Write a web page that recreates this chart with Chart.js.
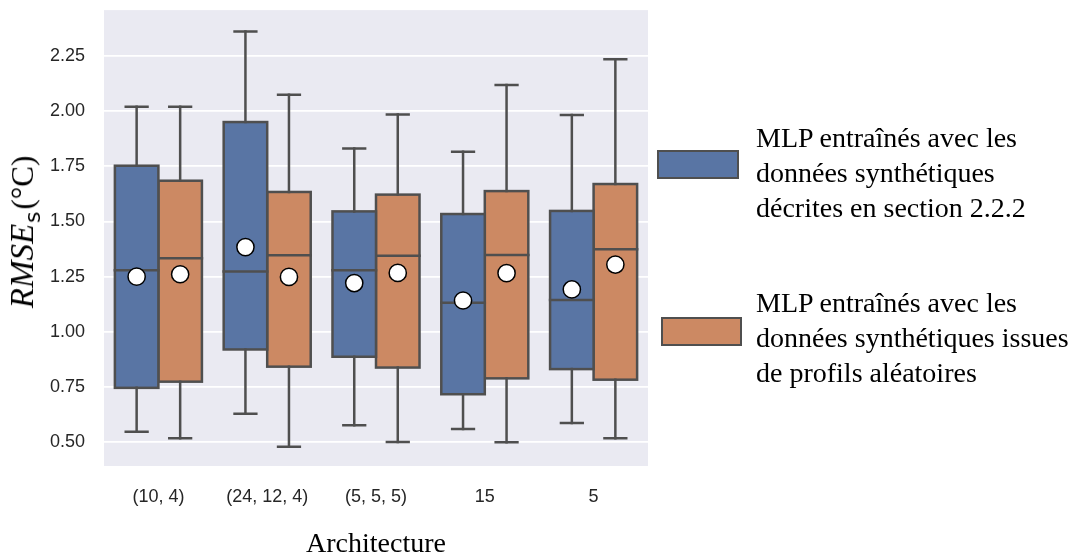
<!DOCTYPE html>
<html>
<head>
<meta charset="utf-8">
<script src="https://cdn.jsdelivr.net/npm/chart.js@4.4.1/dist/chart.umd.min.js"></script>
<style>
html,body{margin:0;padding:0;background:#fff;}
#wrap{position:relative;width:1082px;height:555px;overflow:hidden;background:#fff;}
#c{position:absolute;left:0;top:0;}
.leg{position:absolute;font-family:"Liberation Serif","Times New Roman",serif;font-size:28px;line-height:35px;color:#000;white-space:nowrap;}
.sw{position:absolute;box-sizing:border-box;border:2.5px solid #4f4f4f;}
#ytitle{position:absolute;left:24px;top:232px;transform:translate(-50%,-50%) rotate(-90deg);white-space:nowrap;font-family:"Liberation Serif","Times New Roman",serif;font-size:31px;line-height:32px;color:#000;}
</style>
</head>
<body>
<div id="wrap">
<canvas id="c" width="1082" height="555"></canvas>
<div id="ytitle"><i style="font-size:33px">RMSE</i><span style="font-family:'DejaVu Sans',sans-serif;font-size:22px;position:relative;top:7px;margin:0 2px 0 1px">s</span>(°C)</div>
<div class="sw" style="left:657px;top:150px;width:82px;height:29px;background:#5975a4"></div>
<div class="leg" style="left:756px;top:120px">MLP entraînés avec les<br>données synthétiques<br>décrites en section 2.2.2</div>
<div class="sw" style="left:661px;top:317px;width:81px;height:29px;background:#cc8963"></div>
<div class="leg" style="left:756px;top:285px">MLP entraînés avec les<br>données synthétiques issues<br>de profils aléatoires</div>
</div>
<script>
// ---------- data ----------
const categories = ['(10, 4)', '(24, 12, 4)', '(5, 5, 5)', '15', '5'];
const seriesNames = [
  'MLP entraînés avec les données synthétiques décrites en section 2.2.2',
  'MLP entraînés avec les données synthétiques issues de profils aléatoires'
];
// Series A (blue)
const whiskerLowA  = [0.547, 0.629, 0.577, 0.559, 0.587];
const q1A          = [0.746, 0.920, 0.887, 0.717, 0.831];
const medianA      = [1.279, 1.273, 1.279, 1.132, 1.144];
const q3A          = [1.753, 1.951, 1.546, 1.534, 1.548];
const whiskerHighA = [2.020, 2.362, 1.831, 1.816, 1.983];
const meanA        = [1.250, 1.384, 1.221, 1.142, 1.192];
// Series B (orange)
const whiskerLowB  = [0.517, 0.479, 0.500, 0.499, 0.518];
const q1B          = [0.774, 0.842, 0.838, 0.789, 0.783];
const medianB      = [1.333, 1.347, 1.345, 1.348, 1.374];
const q3B          = [1.685, 1.634, 1.622, 1.638, 1.670];
const whiskerHighB = [2.020, 2.075, 1.985, 2.119, 2.236];
const meanB        = [1.261, 1.249, 1.267, 1.266, 1.305];
// y tick values
const yTickValues = [0.50, 0.75, 1.00, 1.25, 1.50, 1.75, 2.00, 2.25];

// ---------- styles ----------
const LINE = '#4f4f4f';
const BLUE = '#5975a4';
const ORANGE = '#cc8963';
const GROUP_OFFSET = 0.2;   // half of a box width in category units
const CAP_HALF = 0.1;

const boxPlugin = {
  id: 'boxes',
  beforeDraw(chart) {
    const {ctx, chartArea: a} = chart;
    ctx.save();
    ctx.fillStyle = '#eaeaf2';
    ctx.fillRect(a.left, a.top, a.right - a.left, a.bottom - a.top);
    ctx.restore();
  },
  afterDatasetDraw(chart, args) {
    const ds = chart.data.datasets[args.index];
    if (!ds.stats) return;
    const st = ds.stats;
    const ys = chart.scales.y, xs = chart.scales.x2;
    const ctx = chart.ctx;
    ctx.save();
    ctx.strokeStyle = LINE;
    ctx.lineWidth = 2.5;
    ctx.lineCap = 'square';
    ctx.lineJoin = 'miter';
    args.meta.data.forEach((bar, i) => {
      const p = bar.getProps(['x', 'width'], true);
      const cx = p.x, hw = p.width / 2;
      const yq1 = ys.getPixelForValue(st.q1[i]);
      const yq3 = ys.getPixelForValue(st.q3[i]);
      const ymed = ys.getPixelForValue(st.med[i]);
      const ylo = ys.getPixelForValue(st.lo[i]);
      const yhi = ys.getPixelForValue(st.hi[i]);
      const pos = i + st.off;
      const cl = xs.getPixelForValue(pos - CAP_HALF), cr = xs.getPixelForValue(pos + CAP_HALF);
      // whiskers
      ctx.beginPath();
      ctx.moveTo(cx, yq3); ctx.lineTo(cx, yhi);
      ctx.moveTo(cx, yq1); ctx.lineTo(cx, ylo);
      ctx.stroke();
      // caps
      ctx.beginPath();
      ctx.moveTo(cl, yhi); ctx.lineTo(cr, yhi);
      ctx.moveTo(cl, ylo); ctx.lineTo(cr, ylo);
      ctx.stroke();
      // box outline
      ctx.strokeRect(cx - hw, yq3, p.width, yq1 - yq3);
      // median
      ctx.beginPath();
      ctx.moveTo(cx - hw, ymed); ctx.lineTo(cx + hw, ymed);
      ctx.stroke();
    });
    ctx.restore();
  }
};

// boxes are floating bars placed on the numeric companion axis x2 (category i -> value i)
const boxA = categories.map((_, i) => ({x: i - GROUP_OFFSET, y: [q1A[i], q3A[i]]}));
const boxB = categories.map((_, i) => ({x: i + GROUP_OFFSET, y: [q1B[i], q3B[i]]}));
const meanPtsA = categories.map((_, i) => ({x: i - GROUP_OFFSET, y: meanA[i]}));
const meanPtsB = categories.map((_, i) => ({x: i + GROUP_OFFSET, y: meanB[i]}));

const boxStyle = {
  type: 'bar', xAxisID: 'x2', yAxisID: 'y', order: 1, grouped: false,
  borderWidth: 0, barPercentage: 1.0, categoryPercentage: 1.0
};
const meanStyle = {
  type: 'scatter', xAxisID: 'x2', yAxisID: 'y', order: 0,
  pointRadius: 8.6, pointHoverRadius: 8.6, pointBackgroundColor: '#ffffff',
  pointBorderColor: '#000000', pointBorderWidth: 1.5, showLine: false
};

new Chart(document.getElementById('c'), {
  type: 'bar',
  data: {
    labels: categories,
    datasets: [
      Object.assign({label: seriesNames[0], data: boxA, backgroundColor: BLUE,
        stats: {q1: q1A, q3: q3A, med: medianA, lo: whiskerLowA, hi: whiskerHighA, off: -GROUP_OFFSET}}, boxStyle),
      Object.assign({label: seriesNames[1], data: boxB, backgroundColor: ORANGE,
        stats: {q1: q1B, q3: q3B, med: medianB, lo: whiskerLowB, hi: whiskerHighB, off: GROUP_OFFSET}}, boxStyle),
      Object.assign({label: 'mean A', data: meanPtsA}, meanStyle),
      Object.assign({label: 'mean B', data: meanPtsB}, meanStyle)
    ]
  },
  options: {
    responsive: false,
    devicePixelRatio: 1,
    animation: false,
    events: [],
    layout: {padding: {left: 0, top: 8, right: 434, bottom: 0}},
    plugins: {legend: {display: false}, tooltip: {enabled: false}},
    scales: {
      x: {
        type: 'category', offset: true,
        grid: {display: false, drawTicks: false},
        border: {display: false},
        ticks: {padding: 20, color: '#262626', font: {family: 'Liberation Sans', size: 18}, maxRotation: 0, autoSkip: false},
        title: {display: true, text: 'Architecture', color: '#000',
                font: {family: 'Liberation Serif', size: 28, lineHeight: 1}, padding: {top: 0, bottom: -4}},
        afterFit: s => { s.height = 89; s.paddingLeft = 0; s.paddingRight = 0; }
      },
      x2: {type: 'linear', display: false, offset: false, min: -0.5, max: 4.5,
           grid: {offset: false}, ticks: {stepSize: 1}},
      y: {
        min: 0.3917, max: 2.4585,
        afterBuildTicks: s => { s.ticks = yTickValues.map(v => ({value: v})); },
        grid: {color: '#ffffff', lineWidth: 1.8, drawTicks: false},
        border: {display: false},
        ticks: {padding: 19, color: '#262626', font: {family: 'Liberation Sans', size: 18},
                callback: v => Number(v).toFixed(2)},
        afterFit: s => { s.width = 104; s.paddingTop = 0; s.paddingBottom = 0; }
      }
    }
  },
  plugins: [boxPlugin]
});
</script>
</body>
</html>
